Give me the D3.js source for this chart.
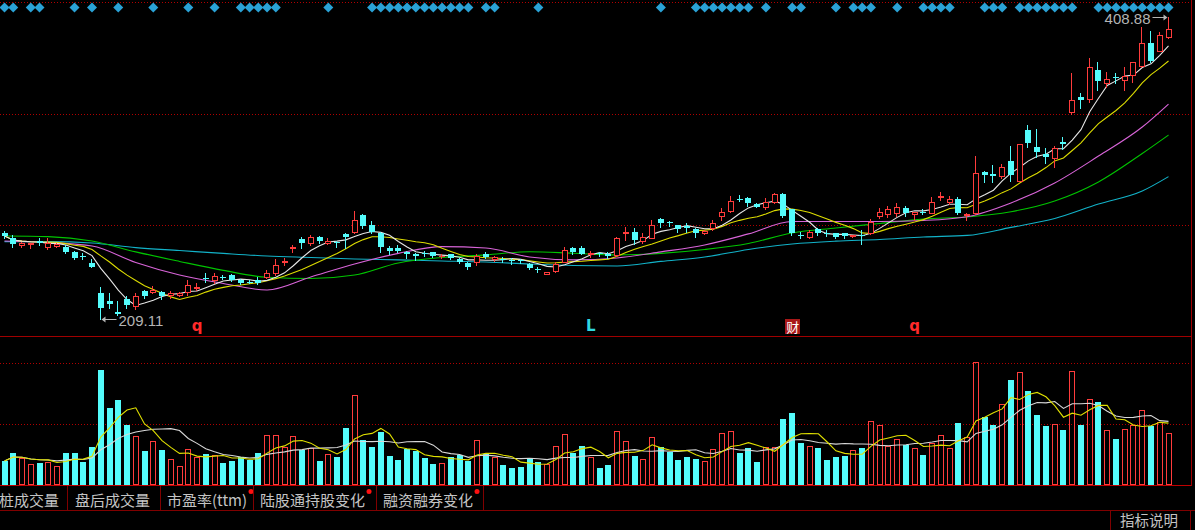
<!DOCTYPE html>
<html><head><meta charset="utf-8">
<script src="https://cdn.jsdelivr.net/npm/d3@7"></script>
<style>html,body{margin:0;padding:0;background:#000;overflow:hidden}svg{display:block}</style>
</head><body><svg id="c" width="1195" height="530"></svg>
<script>
// ---- data (bar index 0..133) ----
const openP=[266.0,263.0,258.1,258.4,260.4,256.8,257.1,256.8,253.5,250.8,
246.2,226.5,221.0,213.8,222.4,217.7,227.7,227.0,227.0,224.7,
225.3,227.0,229.6,236.3,234.6,237.2,238.2,234.6,233.9,234.6,
236.9,239.6,246.8,255.8,262.0,259.4,263.4,259.7,260.1,265.4,
266.7,277.9,271.3,266.0,256.4,255.8,253.1,251.8,252.8,253.1,
250.5,251.8,249.1,246.2,246.5,251.8,249.1,248.8,248.2,248.2,
245.8,242.5,239.2,240.9,246.8,256.4,256.1,252.1,252.8,251.8,
251.5,265.7,266.7,260.7,262.7,275.3,273.0,271.3,270.3,268.7,
266.0,269.3,277.3,280.6,288.2,289.2,285.2,283.2,286.5,292.1,
281.6,264.4,263.4,268.7,266.3,266.0,266.0,263.7,264.4,265.7,
277.3,278.6,279.2,282.6,278.6,280.2,279.2,289.8,286.5,288.8,
277.6,279.2,306.4,304.7,303.7,313.6,300.4,334.1,322.9,318.3,
315.6,325.9,346.0,356.0,354.6,373.8,365.2,369.5,367.2,370.5,
376.5,391.7,386.4,395.7];
const highP=[267.3,264.7,260.1,259.7,263.0,262.7,259.4,257.8,254.1,252.8,
249.1,230.1,226.3,221.0,224.0,226.3,228.6,231.0,227.7,227.7,
226.7,234.9,232.6,239.6,239.6,237.9,238.9,235.6,234.9,237.2,
241.5,249.1,249.5,258.1,263.4,265.0,263.7,262.4,260.7,266.0,
280.6,278.3,274.0,266.7,257.4,258.1,253.8,252.8,253.8,253.5,
251.8,252.1,249.5,246.5,252.1,253.5,250.8,249.8,249.5,249.1,
246.2,243.5,240.2,246.8,256.8,256.8,257.4,254.1,253.5,253.1,
263.4,270.0,269.0,265.7,274.6,275.6,274.0,271.6,272.6,269.0,
267.7,274.6,282.6,290.5,291.2,289.8,285.9,289.2,292.5,292.5,
282.2,266.7,268.0,269.0,268.0,266.3,266.3,265.0,268.0,275.3,
282.6,283.9,285.9,283.9,280.2,281.9,289.8,293.1,290.8,289.5,
279.2,316.9,306.7,311.0,311.7,323.6,325.2,337.4,334.8,322.2,
323.6,329.5,371.8,358.6,381.8,379.1,372.5,371.8,375.8,379.4,
402.3,399.6,399.0,408.88];
const lowP=[262.7,256.8,256.8,256.1,258.1,255.4,256.8,252.8,248.8,248.5,
243.2,209.11,216.4,211.5,216.4,215.8,223.0,226.0,222.4,223.0,
224.4,225.0,228.6,233.6,232.9,235.9,234.3,232.3,232.6,232.3,
236.3,238.2,244.9,253.5,256.1,258.1,259.4,258.7,256.8,256.1,
266.3,269.0,266.3,253.5,252.1,253.5,249.5,248.2,251.1,250.1,
249.5,249.1,246.2,242.5,244.9,249.5,247.5,246.8,245.8,246.2,
242.5,240.2,238.6,240.2,246.5,252.1,251.8,250.1,250.8,249.5,
251.1,261.4,258.7,259.7,262.4,270.0,270.6,266.7,266.7,263.4,
265.4,268.0,274.6,279.9,286.9,283.9,282.9,281.9,285.9,276.3,
264.7,263.0,262.4,264.7,264.0,263.0,263.0,263.4,258.7,265.4,
275.6,276.6,277.3,277.3,274.6,278.6,278.9,287.8,285.5,278.6,
274.6,278.6,299.8,299.8,302.4,300.4,300.1,322.9,316.3,312.3,
309.7,321.6,344.7,348.7,352.7,360.6,362.6,365.2,360.6,365.9,
376.1,379.4,386.1,395.3];
const closeP=[264.0,258.7,259.1,259.1,259.4,259.4,258.7,253.5,249.5,250.1,
243.5,216.2,219.1,212.4,218.7,224.0,224.4,228.3,224.4,226.3,
226.0,231.3,230.3,235.3,237.6,236.6,234.9,232.9,233.3,232.6,
239.6,244.9,247.8,256.8,259.1,263.4,260.7,260.4,259.4,263.4,
274.6,270.6,266.7,256.8,253.8,254.1,252.1,251.1,252.1,250.5,
251.1,249.5,246.5,243.5,250.5,249.8,249.8,248.2,247.5,247.5,
242.9,241.9,239.9,245.2,254.8,253.1,252.1,252.8,252.1,251.1,
263.0,266.7,261.4,263.4,271.3,272.6,272.3,268.7,269.6,266.0,
267.3,272.6,279.9,287.2,287.5,285.9,283.2,286.5,292.1,277.3,
265.7,263.7,266.7,266.0,265.7,263.4,263.7,264.7,263.7,273.3,
279.9,281.9,282.9,279.2,279.6,279.6,286.5,290.8,288.8,279.2,
278.3,305.7,304.4,304.0,309.7,304.4,324.9,325.5,319.6,316.3,
322.2,325.2,354.0,354.0,375.8,366.5,367.9,368.9,369.9,379.1,
391.7,379.8,397.0,400.9];
const volume=[24,32,27.3,21,22,23.3,19,32,32,23,
38,115,77,85,60,49,34,44,35,26.3,
19,36,28,31.3,30,22,24,28,25,32.3,
50,50,38.3,49,35,37,24,31,28,57,
90,45,38,53,29,25,36,34,27,21.3,
22.3,28,30,24.3,45,31,28.3,20,17,18,
26,23,21,39,51,32,39,28.3,17,20,
54,44,29,26.3,48,38.3,33.3,25,28,26.3,
24,36.3,52.3,54,32.3,37,23,38.3,38,66.3,
72,42,39,37,25,28,29,35,37,64,
60,39,46,40,37.3,30,42,50,37.3,62,
48.3,123,68.3,60,81,105,113,94,70,59,
61,55,114,60,86,83,55,46.3,56,60,
75,59,63.3,52.3];
// long moving averages at these bar indices
const maIdx=[0,5,10,15,20,25,30,35,40,45,50,55,60,65,70,75,80,85,90,95,100,105,110,115,120,125,130,133];
const ma20=[260.7,259.6,257.4,246.5,238.2,232.6,228.3,236.9,245.5,252.5,257.0,256.1,250.1,248.2,249.5,253.5,258.1,265.4,273.6,273.6,273.6,274.3,276.8,285.9,299.1,316.9,336.1,351.3];
const ma30=[264.0,263.6,260.7,253.5,247.2,241.3,236.7,235.9,238.2,246.2,249.8,251.5,253.6,252.6,251.5,252.5,255.1,259.1,266.0,269.3,272.3,275.3,276.6,280.1,287.2,299.8,318.6,330.8];
const ma60=[260.3,260.3,259.4,256.3,254.4,252.5,250.8,249.8,248.8,248.2,247.5,246.8,245.5,244.5,244.2,247.2,250.1,255.1,258.7,260.6,261.7,263.4,264.4,269.7,275.6,285.2,293.8,303.3];
// signal diamonds along the top
const signalIdx=[0,1,3,4,8,10,13,17,21,24,27,28,29,30,31,37,42,43,44,45,46,47,48,49,50,51,52,53,55,56,61,75,79,80,81,82,83,84,85,87,90,91,95,97,98,99,102,105,106,107,108,112,113,114,116,117,118,119,120,121,122,125,126,127,128,129,130,131,132,133];
const markerIdx=[22,67,90,104];
const markerText=['q','L','财','q'];
const tabs=['桩成交量','盘后成交量','市盈率(ttm)','陆股通持股变化','融资融券变化'];
const tabDot=[false,false,true,true,true];

// ---- drawing ----
const W=1195,H=530,n=closeP.length;
const UP='#ff3c3c',DN='#54fcfc';
const svg=d3.select('#c');
svg.append('rect').attr('width',W).attr('height',H).attr('fill','#000');
const x=d3.scaleLinear().domain([0,n-1]).range([4.5,1168.5]);
const y=d3.scaleLinear().domain([209.11,408.88]).range([319,17]);
const yv=d3.scaleLinear().domain([0,122]).range([485,363]);

// grid
const grid=svg.append('g').attr('shape-rendering','crispEdges');
[2.5,114.5,225.5,363.5,424.5].forEach(gy=>grid.append('line').attr('x1',0).attr('x2',1192).attr('y1',gy).attr('y2',gy)
  .attr('stroke','#b00000').attr('stroke-dasharray','1 2'));
grid.append('line').attr('x1',0).attr('x2',1192).attr('y1',336.5).attr('y2',336.5).attr('stroke','#a00000').attr('stroke-width',1.5);
grid.append('line').attr('x1',0).attr('x2',1192).attr('y1',485.5).attr('y2',485.5).attr('stroke','#c00000');
grid.append('line').attr('x1',0).attr('x2',W).attr('y1',510.5).attr('y2',510.5).attr('stroke','#800000');
grid.append('line').attr('x1',1191.5).attr('x2',1191.5).attr('y1',0).attr('y2',486).attr('stroke','#a00000');

// signal diamonds
svg.append('g').selectAll('path').data(signalIdx).join('path')
  .attr('d',i=>`M${x(i)},2.5 L${x(i)+5},7.5 L${x(i)},12.5 L${x(i)-5},7.5Z`).attr('fill','#2aa2d6');

// moving averages
const ma=(a,k)=>a.map((_,i)=>d3.mean(a.slice(Math.max(0,i-k+1),i+1)));
const lineI=d3.line().x((d,i)=>x(i)).y(d=>y(d));
const lineS=d3.line().x((d,j)=>x(maIdx[j])).y(d=>y(d)).curve(d3.curveMonotoneX);
const gl=svg.append('g').attr('fill','none').attr('stroke-width',1.1);
gl.append('path').attr('d',lineS(ma60)).attr('stroke','#12b2c8');
gl.append('path').attr('d',lineS(ma30)).attr('stroke','#00c400');
gl.append('path').attr('d',lineS(ma20)).attr('stroke','#d864d8');
gl.append('path').attr('d',lineI(ma(closeP,10))).attr('stroke','#dcdc00');
gl.append('path').attr('d',lineI(ma(closeP,5))).attr('stroke','#e6e6e6');

// candles
const gc=svg.append('g').attr('shape-rendering','crispEdges');
closeP.forEach((c,i)=>{
  const o=openP[i],up=c>=o,col=up?UP:DN;
  const rx=Math.round(x(i)-3), cx=rx+2.5;
  gc.append('line').attr('x1',cx).attr('x2',cx).attr('y1',Math.round(y(highP[i]))).attr('y2',Math.round(y(lowP[i]))+1).attr('stroke',col);
  const t=Math.round(y(Math.max(o,c))), b=Math.round(y(Math.min(o,c)));
  if(up){
    gc.append('rect').attr('x',rx+0.5).attr('y',t+0.5).attr('width',5).attr('height',Math.max(b-t,0.01))
      .attr('fill','#000').attr('stroke',col);
  } else {
    gc.append('rect').attr('x',rx).attr('y',t).attr('width',6).attr('height',Math.max(b-t,1)).attr('fill',col);
  }
});

// extreme labels
const lab=svg.append('g').attr('font-family','"Liberation Sans",Arial,sans-serif').attr('font-size',15).attr('fill','#b4b4b4');
const iMin=d3.minIndex(lowP), iMax=d3.maxIndex(highP);
const mx=Math.round(x(iMin)-3)+2.5, my=Math.round(y(lowP[iMin]))+0.5;
lab.append('line').attr('x1',mx+2).attr('x2',mx+16).attr('y1',my).attr('y2',my).attr('stroke','#b4b4b4');
lab.append('path').attr('d',`M${mx+1},${my} l4,-3 l0,6Z`).attr('fill','#b4b4b4');
lab.append('text').attr('x',mx+18).attr('y',my+6).text(lowP[iMin].toFixed(2));
const Mx=Math.round(x(iMax)-3)+2.5, My=Math.round(y(highP[iMax]))+0.5;
lab.append('line').attr('x1',Mx-16).attr('x2',Mx-3).attr('y1',My).attr('y2',My).attr('stroke','#b4b4b4');
lab.append('path').attr('d',`M${Mx-1},${My} l-4,-3 l0,6Z`).attr('fill','#b4b4b4');
lab.append('text').attr('x',Mx-18).attr('y',My+6).attr('text-anchor','end').text(highP[iMax].toFixed(2));

// event markers
markerIdx.forEach((i,k)=>{
  const t=markerText[k], cx=x(i);
  if(t==='财'){
    svg.append('rect').attr('x',Math.round(cx)-7).attr('y',319).attr('width',15).attr('height',15).attr('fill','#a81818');
    svg.append('text').attr('x',cx+0.5).attr('y',332).attr('text-anchor','middle').attr('font-size',13)
      .attr('font-family','"Noto Sans CJK SC",sans-serif').attr('fill','#fff').text(t);
  } else {
    svg.append('text').attr('x',cx).attr('y',331).attr('text-anchor','middle').attr('font-size',15).attr('font-weight','bold')
      .attr('font-family','"DejaVu Sans",sans-serif').attr('fill',t==='L'?'#30d8e0':'#ff2a2a').text(t);
  }
});

// volume bars
const gv=svg.append('g').attr('shape-rendering','crispEdges');
volume.forEach((v,i)=>{
  const up=closeP[i]>=openP[i];
  const rx=Math.round(x(i)-3), top=Math.round(yv(v));
  if(up) gv.append('rect').attr('x',rx+0.5).attr('y',top+0.5).attr('width',5).attr('height',485-top-1).attr('fill','none').attr('stroke',UP);
  else gv.append('rect').attr('x',rx).attr('y',top).attr('width',6).attr('height',485-top).attr('fill',DN);
});
const lineV=d3.line().x((d,i)=>x(i)).y(d=>yv(d));
svg.append('path').attr('d',lineV(ma(volume,10))).attr('fill','none').attr('stroke','#d8d8d8').attr('stroke-width',1.1);
svg.append('path').attr('d',lineV(ma(volume,5))).attr('fill','none').attr('stroke','#e0e000').attr('stroke-width',1.1);

// bottom tabs
const tabX=[-1,75,167,260,383], sepX=[67,160,253,376,483];
const gt=svg.append('g').attr('font-family','"Noto Sans CJK SC",sans-serif').attr('font-size',15).attr('fill','#c4c4c4');
tabs.forEach((t,k)=>{
  const tx=gt.append('text').attr('x',tabX[k]).attr('y',506).text(t);
  if(tabDot[k]){ const w=tx.node().getComputedTextLength(); svg.append('circle').attr('cx',tabX[k]+w+4).attr('cy',491.5).attr('r',2.5).attr('fill','#ff1010'); }
});
sepX.forEach(sx=>svg.append('line').attr('x1',sx+0.5).attr('x2',sx+0.5).attr('y1',486).attr('y2',510).attr('stroke','#800000'));
svg.append('line').attr('x1',1110.5).attr('x2',1110.5).attr('y1',511).attr('y2',530).attr('stroke','#800000');
svg.append('line').attr('x1',1190.5).attr('x2',1190.5).attr('y1',511).attr('y2',530).attr('stroke','#800000');
gt.append('text').attr('x',1120).attr('y',526).attr('font-size',14.5).text('指标说明');
</script></body></html>
